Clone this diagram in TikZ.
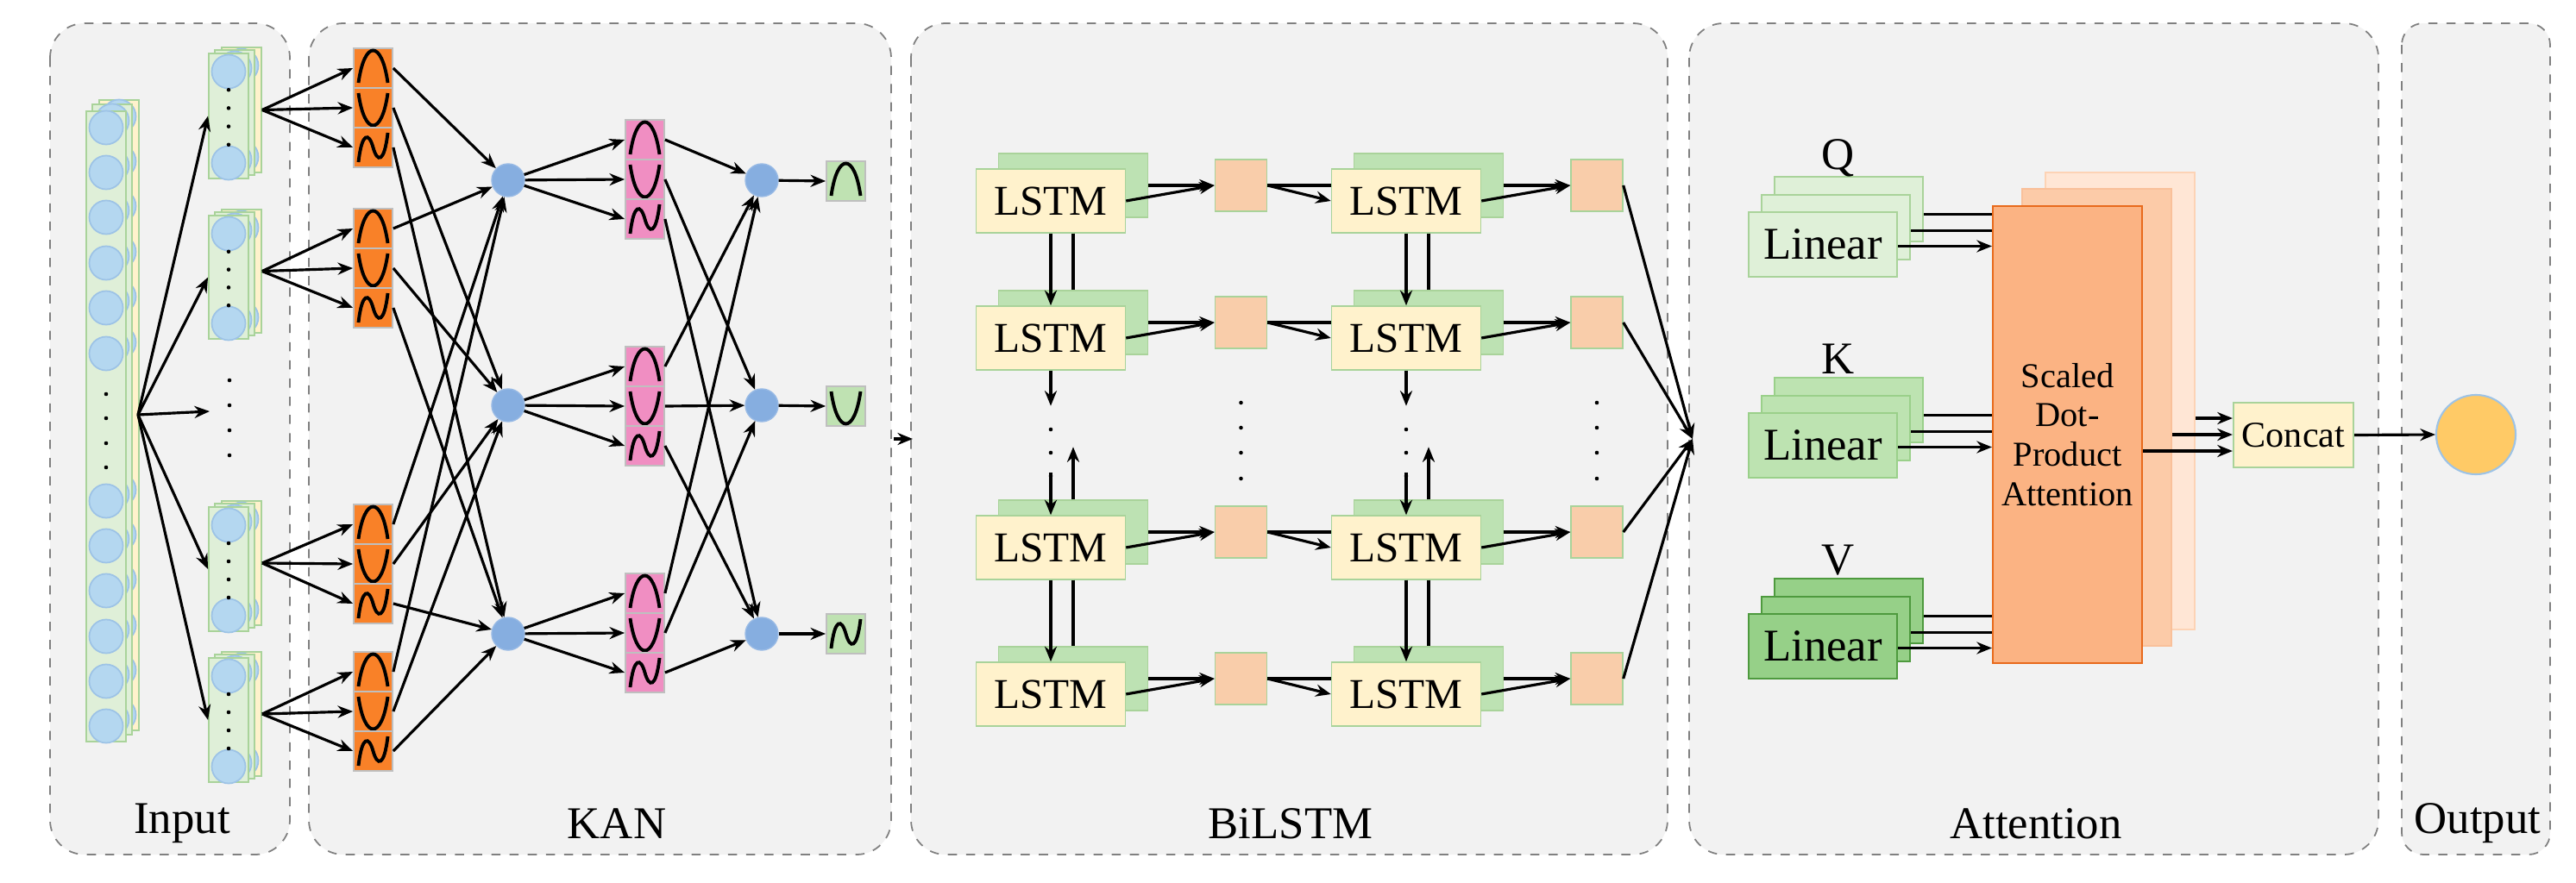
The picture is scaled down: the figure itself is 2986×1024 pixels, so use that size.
\documentclass[tikz,border=0pt]{standalone}
\usepackage{fontspec}
\setmainfont{Liberation Serif}
\newfontfamily\tnr{Liberation Serif}
\usetikzlibrary{arrows.meta,positioning,calc}

\definecolor{panelgray}{HTML}{F2F2F2}
\definecolor{ingreen}{HTML}{DFEFD8}
\definecolor{ingreenb}{HTML}{A9D39A}
\definecolor{inyellow}{HTML}{FFF2CC}
\definecolor{incircle}{HTML}{B4D7F0}
\definecolor{incircleb}{HTML}{9DC3E6}
\definecolor{kanorange}{HTML}{F98128}
\definecolor{kanpink}{HTML}{F08EC2}
\definecolor{kangreen}{HTML}{BFE2B2}
\definecolor{nodeblue}{HTML}{86AEE0}
\definecolor{lstmfill}{HTML}{FFF2CC}
\definecolor{lstmback}{HTML}{BDE2B3}
\definecolor{lstmb}{HTML}{A9D39A}
\definecolor{sqfill}{HTML}{F9CDAA}
\definecolor{linq}{HTML}{DFF0D8}
\definecolor{linqb}{HTML}{A9D39A}
\definecolor{link}{HTML}{BDE3B1}
\definecolor{linkb}{HTML}{9AD08A}
\definecolor{linv}{HTML}{96D088}
\definecolor{linvb}{HTML}{4E9A3E}
\definecolor{attfront}{HTML}{FBB383}
\definecolor{attfrontb}{HTML}{E86A1C}
\definecolor{attmid}{HTML}{FCCBA8}
\definecolor{attmidb}{HTML}{F9C09A}
\definecolor{attback}{HTML}{FFE6D5}
\definecolor{attbackb}{HTML}{FDD3B5}
\definecolor{outyellow}{HTML}{FFCA66}

\tikzset{
  panel/.style={draw=black!50, dashed, fill=panelgray, rounded corners=0.4cm, line width=0.5pt},
  lbl/.style={font=\tnr\fontsize{15}{17}\selectfont},
  arr/.style={-{Stealth[length=5pt,width=4pt]}, line width=0.9pt},
  ln/.style={line width=0.9pt},
  dot/.style={circle, fill=black, inner sep=0pt, minimum size=1.3pt},
  cell/.style={draw=black!25, line width=0.5pt, minimum width=0.45cm, minimum height=0.46cm, inner sep=0pt},
  ocell/.style={cell, fill=kanorange},
  pcell/.style={cell, fill=kanpink},
  gcell/.style={cell, fill=kangreen},
  neuron/.style={circle, fill=nodeblue, draw=nodeblue!85!white, minimum size=0.38cm, inner sep=0pt},
  incirc/.style={circle, fill=incircle, draw=incircleb, minimum size=0.39cm, inner sep=0pt, line width=0.5pt},
  inlayer/.style={draw=ingreenb, line width=0.5pt, minimum width=0.46cm, inner sep=0pt},
  spline/.style={line width=1.1pt, black},
  lstm/.style={draw=lstmb, fill=lstmfill, minimum width=1.73cm, minimum height=0.74cm, inner sep=0pt, font=\tnr\fontsize{14}{16}\selectfont},
  lstmbk/.style={draw=lstmb, fill=lstmback, minimum width=1.73cm, minimum height=0.74cm},
  sq/.style={draw=lstmb, fill=sqfill, minimum width=0.6cm, minimum height=0.6cm, inner sep=0pt},
  lin/.style={minimum width=1.72cm, minimum height=0.75cm, inner sep=0pt, line width=0.6pt, font=\tnr\fontsize{15}{17}\selectfont},
  att/.style={minimum width=1.73cm, minimum height=5.3cm, inner sep=0pt, line width=0.6pt},
}

\newcommand{\sbump}[1]{\draw[spline,shift={(#1)}] (-17,17) .. controls (-10,-33) and (10,-33) .. (17,17);}
\newcommand{\svalley}[1]{\draw[spline,shift={(#1)}] (-17,-17) .. controls (-10,33) and (10,33) .. (17,-17);}
\newcommand{\swave}[1]{\draw[spline,shift={(#1)}] (-17,17) .. controls (-13,-18) and (-5,-18) .. (0,0) .. controls (5,18) and (13,18) .. (17,-17);}

\begin{document}
\begin{tikzpicture}[x=0.01cm,y=-0.01cm]
\useasboundingbox (0,0) rectangle (2986,1024);

% panels
\draw[panel] (58,27) rectangle (336,991);
\draw[panel] (358,27) rectangle (1033,991);
\draw[panel] (1056,27) rectangle (1933,991);
\draw[panel] (1958,27) rectangle (2757,991);
\draw[panel, rounded corners=0.25cm] (2784,27) rectangle (2956,991);
\node[lbl] (tin) at (211,955) {Input};
\node[lbl] (tkan) at (715,955) {KAN};
\node[lbl] (tbi) at (1496,955) {BiLSTM};
\node[lbl] (tatt) at (2360,955) {Attention};
\node[lbl] (tout) at (2872,955) {Output};

% input sequence
\foreach \dx/\dy/\c/\n in {15/-13/inyellow/3, 7/-8/ingreen/2, 0/0/ingreen/1} {
  \node[inlayer, fill=\c, minimum height=7.31cm] (big-\n) at (123+\dx,494.5+\dy) {};
  \foreach \y [count=\k] in {148,200,252,305,357,410,581,633,685,738,790,842}
    \node[incirc] (bc-\n-\k) at (123+\dx,\y+\dy) {};
}
\foreach \y [count=\k] in {457,485,514,542} \node[dot] (bd\k) at (123,\y) {};
\coordinate (fan) at (160,481);

\foreach \s/\yt/\yb in {1/62/207, 2/250/393, 3/588/732, 4/763/907} {
  \pgfmathsetmacro{\h}{(\yb-\yt)*0.01}
  \foreach \dx/\dy/\c/\n in {15/-7/inyellow/3, 7/-4/ingreen/2, 0/0/ingreen/1} {
    \node[inlayer, fill=\c, minimum height=\h cm] (s\s-\n) at (265+\dx,{(\yt+\yb)/2+\dy}) {};
    \node[incirc] (sc\s-\n-a) at (265+\dx,\yt+21+\dy) {};
    \node[incirc] (sc\s-\n-b) at (265+\dx,\yb-18+\dy) {};
  }
  \foreach \k in {1,...,4}
    \node[dot] (sd\s-\k) at (265,{\yt+21+(\yb-\yt-39)*\k/5}) {};
  \draw[arr] (fan) -- (s\s-1.west);
}
\foreach \y [count=\k] in {441,470,499,528} \node[dot] (md\k) at (266,\y) {};
\coordinate (smid) at (243,477);
\draw[arr] (fan) -- (smid);

% KAN
\foreach \i/\y in {1/209, 2/470, 3/735} {
  \node[neuron] (kh\i) at (589,\y) {};
  \node[neuron] (ko\i) at (883,\y) {};
}
\node[gcell] (kg1) at (980.5,210) {}; \sbump{kg1}
\node[gcell] (kg2) at (980.5,471) {}; \svalley{kg2}
\node[gcell] (kg3) at (980.5,735) {}; \swave{kg3}

\foreach \g/\y in {1/79, 2/265, 3/608, 4/779} {
  \node[ocell] (o\g1) at (432.5,\y) {}; \sbump{o\g1}
  \node[ocell] (o\g2) at (432.5,\y+46) {}; \svalley{o\g2}
  \node[ocell] (o\g3) at (432.5,\y+92) {}; \swave{o\g3}
  \foreach \i in {1,2,3} {
    \draw[arr] (s\g-3.east) -- (o\g\i.west);
    \draw[arr] (o\g\i.east) -- (kh\i);
  }
}
\foreach \g/\y in {1/162, 2/425, 3/688} {
  \node[pcell] (p\g1) at (747.5,\y) {}; \sbump{p\g1}
  \node[pcell] (p\g2) at (747.5,\y+46) {}; \svalley{p\g2}
  \node[pcell] (p\g3) at (747.5,\y+92) {}; \swave{p\g3}
  \foreach \i in {1,2,3} {
    \draw[arr] (kh\g) -- (p\g\i.west);
    \draw[arr] (p\g\i.east) -- (ko\i);
  }
}
\foreach \i in {1,2,3} \draw[arr] (ko\i) -- (kg\i.west);

\coordinate (kanout) at (1036,509);
\coordinate (biin) at (1058,509);
\draw[arr] (kanout) -- (biin);

% BiLSTM
\foreach \c/\x in {1/1218, 2/1630}
  \foreach \r/\y in {1/233, 2/392, 3/635, 4/805} {
    \node[lstmbk] (lb\c\r) at (\x+26,\y-18) {};
    \node[lstm] (l\c\r) at (\x,\y) {LSTM};
  }
\foreach \c/\x in {1/1438.5, 2/1851}
  \foreach \r/\y in {1/215, 2/374, 3/617, 4/787}
    \node[sq] (sq\c\r) at (\x,\y) {};

\foreach \r in {1,2,3,4} {
  \draw[arr] (lb1\r.east) -- (sq1\r.west);
  \draw[arr] (l1\r.east) -- (sq1\r.west);
  \draw[ln] (sq1\r.east) -- (sq1\r.east -| l2\r.west);
  \draw[arr] (sq1\r.east) -- (l2\r.west);
  \draw[arr] (lb2\r.east) -- (sq2\r.west);
  \draw[arr] (l2\r.east) -- (sq2\r.west);
}
\foreach \c/\x in {1/1218, 2/1630} {
  \draw[arr] (l\c1.south) -- (l\c2.north);
  \draw[ln] (l\c1.south -| lb\c2.north) -- (lb\c2.north);
  \draw[arr] (l\c3.south) -- (l\c4.north);
  \draw[ln] (l\c3.south -| lb\c4.north) -- (lb\c4.north);
  \coordinate (dn\c) at ($(l\c2.south)+(0,41)$);
  \draw[arr] (l\c2.south) -- (dn\c);
  \coordinate (up\c) at ($(lb\c3.north)+(0,-61)$);
  \draw[arr] (lb\c3.north) -- (up\c);
  \coordinate (dd\c) at ($(l\c3.north)+(0,-49)$);
  \draw[arr] (dd\c) -- (l\c3.north);
  \foreach \y [count=\k] in {498,525,552} \node[dot] (ld\c\k) at (\x,\y) {};
}
\foreach \c/\x in {1/1438.5, 2/1851}
  \foreach \y [count=\k] in {467,496,525,555} \node[dot] (qd\c\k) at (\x,\y) {};

\coordinate (conv) at (1962,509);
\foreach \r in {1,2,3,4} \draw[arr] (sq2\r.east) -- (conv);

% Attention
\node[att, fill=attback, draw=attbackb] (att3) at (2457.5,465) {};
\node[att, fill=attmid, draw=attmidb] (att2) at (2430.5,484) {};
\node[att, fill=attfront, draw=attfrontb, font=\tnr\fontsize{11.5}{13}\selectfont, align=center] (att1) at (2396.5,504) {Scaled\\Dot-\\Product\\Attention};

\foreach \n/\y/\c/\b/\t in {q/283.5/linq/linqb/Q, k/516.5/link/linkb/K, v/749.5/linv/linvb/V} {
  \node[lin, fill=\c, draw=\b] (\n3) at (2143,\y-41) {};
  \node[lin, fill=\c, draw=\b] (\n2) at (2128,\y-20) {};
  \node[lin, fill=\c, draw=\b] (\n1) at (2113,\y) {Linear};
  \node[lbl] (\n lab) at (2131,\y-100) {\t};
  \draw[ln] ([yshift=-0.06cm]\n3.east) -- ([yshift=-0.06cm]\n3.east -| att1.west);
  \draw[ln] ([yshift=-0.04cm]\n2.east) -- ([yshift=-0.04cm]\n2.east -| att1.west);
  \draw[arr] ([yshift=-0.02cm]\n1.east) -- ([yshift=-0.02cm]\n1.east -| att1.west);
}

\node[draw=lstmb, fill=lstmfill, minimum width=1.39cm, minimum height=0.75cm, inner sep=0pt, line width=0.6pt, font=\tnr\fontsize{12}{14}\selectfont] (concat) at (2658.5,504.5) {Concat};
\draw[arr] ([yshift=-0.2cm]att3.east) -- ([yshift=-0.2cm]att3.east -| concat.west);
\draw[arr] ([yshift=-0.2cm]att2.east) -- ([yshift=-0.2cm]att2.east -| concat.west);
\draw[arr] ([yshift=-0.19cm]att1.east) -- ([yshift=-0.19cm]att1.east -| concat.west);

% Output
\node[circle, fill=outyellow, draw=incircleb, minimum size=0.92cm, inner sep=0pt, line width=0.6pt] (outc) at (2870,504) {};
\draw[arr] (concat.east) -- (outc.west);
\end{tikzpicture}
\end{document}
